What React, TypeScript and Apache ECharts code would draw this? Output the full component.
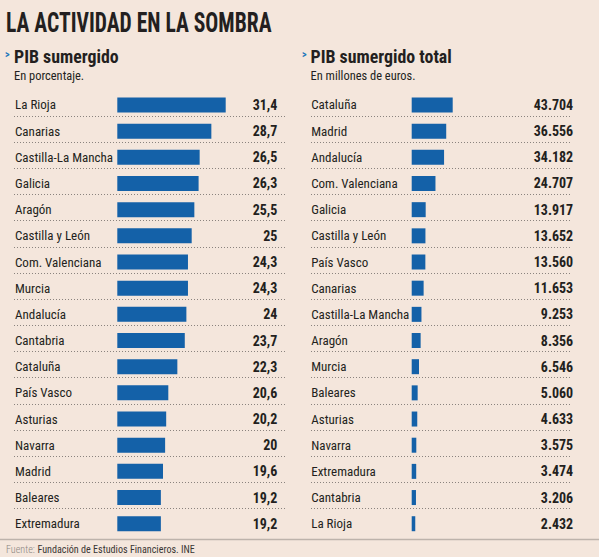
import * as echarts from "echarts";
import { useEffect, useRef } from "react";

// PIB sumergido (%), por comunidad
const pctRegions = [
  "La Rioja", "Canarias", "Castilla-La Mancha", "Galicia", "Aragón",
  "Castilla y León", "Com. Valenciana", "Murcia", "Andalucía", "Cantabria",
  "Cataluña", "País Vasco", "Asturias", "Navarra", "Madrid", "Baleares",
  "Extremadura",
];
const pctValues = [
  31.4, 28.7, 26.5, 26.3, 25.5, 25, 24.3, 24.3, 24, 23.7, 22.3, 20.6, 20.2,
  20, 19.6, 19.2, 19.2,
];

// PIB sumergido total (millones de euros)
const totalRegions = [
  "Cataluña", "Madrid", "Andalucía", "Com. Valenciana", "Galicia",
  "Castilla y León", "País Vasco", "Canarias", "Castilla-La Mancha", "Aragón",
  "Murcia", "Baleares", "Asturias", "Navarra", "Extremadura", "Cantabria",
  "La Rioja",
];
const totalValues = [
  43704, 36556, 34182, 24707, 13917, 13652, 13560, 11653, 9253, 8356, 6546,
  5060, 4633, 3575, 3474, 3206, 2432,
];

const FONT = "'Roboto Condensed', 'DejaVu Sans Condensed', sans-serif";
const BG = "#f4e6dc";
const INK = "#231f20";
const BAR = "#1461a8";
const DOTS = "#8a837e";

const fmtPct = (v: number) => String(v).replace(".", ",");
const fmtMillions = (v: number) =>
  String(v).replace(/\B(?=(\d{3})+(?!\d))/g, ".");

const ROW_TOP = 91.9; // bars & labels
const DOT_TOP = 89.5; // dotted separators
const ROWS_H = 444.9;

// dotted separator lines between rows, for both panels
function separatorLines(count: number) {
  const step = ROWS_H / count;
  const lines: any[] = [];
  for (let i = 1; i < count; i++) {
    const y = Math.round(DOT_TOP + i * step) + 0.5;
    for (const [x1, x2] of [[14, 285], [311, 570]]) {
      lines.push({
        type: "line",
        silent: true,
        shape: { x1, y1: y, x2, y2: y },
        style: { stroke: DOTS, lineWidth: 1, lineDash: [1, 2] },
      });
    }
  }
  return lines;
}

export default function App() {
  const chartRef = useRef<HTMLDivElement | null>(null);

  useEffect(() => {
    const el = chartRef.current;
    if (!el) return;
    const chart = echarts.init(el, undefined, { renderer: "svg" });

    const hidden = {
      axisLine: { show: false },
      axisTick: { show: false },
      splitLine: { show: false },
    };
    const nameLabel = (margin: number) => ({
      interval: 0,
      align: "left" as const,
      margin,
      fontSize: 13,
      color: INK,
      fontFamily: FONT,
    });
    const valueLabel = (margin: number, fmt: (i: number) => string) => ({
      interval: 0,
      align: "right" as const,
      margin,
      fontSize: 14,
      fontWeight: "bold" as const,
      color: INK,
      fontFamily: FONT,
      formatter: (_: string, i: number) => fmt(i),
    });

    const option: echarts.EChartsOption = {
      animation: false,
      grid: [
        { left: 117.3, top: ROW_TOP, width: 108.4, height: ROWS_H },
        { left: 411.7, top: ROW_TOP, width: 41, height: ROWS_H },
      ],
      xAxis: [
        { gridIndex: 0, type: "value", min: 11, max: 31.4, startValue: 11, show: false } as any,
        { gridIndex: 1, type: "value", min: -1500, max: 43704, startValue: -1500, show: false } as any,
      ],
      yAxis: [
        {
          gridIndex: 0, type: "category", inverse: true, data: pctRegions,
          ...hidden, axisLabel: nameLabel(102.3),
        },
        {
          gridIndex: 0, type: "category", inverse: true, position: "right",
          data: pctRegions, ...hidden,
          axisLabel: valueLabel(51.6, (i) => fmtPct(pctValues[i])),
        },
        {
          gridIndex: 1, type: "category", inverse: true, data: totalRegions,
          ...hidden, axisLabel: nameLabel(100.5),
        },
        {
          gridIndex: 1, type: "category", inverse: true, position: "right",
          data: totalRegions, ...hidden,
          axisLabel: valueLabel(120.5, (i) => fmtMillions(totalValues[i])),
        },
      ],
      series: [
        {
          type: "bar", xAxisIndex: 0, yAxisIndex: 0, data: pctValues,
          barWidth: 15, itemStyle: { color: BAR }, clip: true,
        },
        {
          type: "bar", xAxisIndex: 1, yAxisIndex: 2, data: totalValues,
          barWidth: 15, itemStyle: { color: BAR }, clip: true,
        },
      ],
      graphic: [
        ...separatorLines(pctRegions.length),
        {
          type: "text", x: 6, y: 22, scaleX: 0.77,
          style: {
            text: "LA ACTIVIDAD EN LA SOMBRA", fontSize: 28, fontWeight: "bold",
            fontFamily: FONT, fill: INK, verticalAlign: "middle",
          },
        },
        {
          type: "text", x: 5, y: 54,
          style: { text: ">", fontSize: 10, fontWeight: "bold", fontFamily: FONT, fill: "#1d76bb", verticalAlign: "middle" },
        },
        {
          type: "text", x: 14, y: 56, scaleX: 0.94,
          style: { text: "PIB sumergido", fontSize: 19, fontWeight: "bold", fontFamily: FONT, fill: INK, verticalAlign: "middle" },
        },
        {
          type: "text", x: 14, y: 75, scaleX: 0.92,
          style: { text: "En porcentaje.", fontSize: 13.5, fontFamily: FONT, fill: INK, verticalAlign: "middle" },
        },
        {
          type: "text", x: 302, y: 54,
          style: { text: ">", fontSize: 10, fontWeight: "bold", fontFamily: FONT, fill: "#1d76bb", verticalAlign: "middle" },
        },
        {
          type: "text", x: 310.5, y: 56, scaleX: 0.94,
          style: { text: "PIB sumergido total", fontSize: 19, fontWeight: "bold", fontFamily: FONT, fill: INK, verticalAlign: "middle" },
        },
        {
          type: "text", x: 310.5, y: 75, scaleX: 0.92,
          style: { text: "En millones de euros.", fontSize: 13.5, fontFamily: FONT, fill: INK, verticalAlign: "middle" },
        },
        {
          type: "line",
          shape: { x1: 0, y1: 539.5, x2: 599, y2: 539.5 },
          style: { stroke: "#bdb3ab", lineWidth: 1.5 },
        },
        {
          type: "text", x: 6, y: 549, scaleX: 0.92,
          style: {
            text: "{a|Fuente:} {b|Fundación de Estudios Financieros. INE}",
            fontFamily: FONT, verticalAlign: "middle",
            rich: {
              a: { fontSize: 11, fill: "#8a8580", fontFamily: FONT, fontWeight: 300 },
              b: { fontSize: 11, fill: "#3a3634", fontFamily: FONT },
            },
          } as any,
        },
      ],
    };

    chart.setOption(option);
    return () => {
      if (!chart.isDisposed()) chart.dispose();
    };
  }, []);

  return (
    <div
      ref={chartRef}
      style={{ position: "absolute", left: 0, top: 0, width: 599, height: 557, background: BG }}
    />
  );
}
